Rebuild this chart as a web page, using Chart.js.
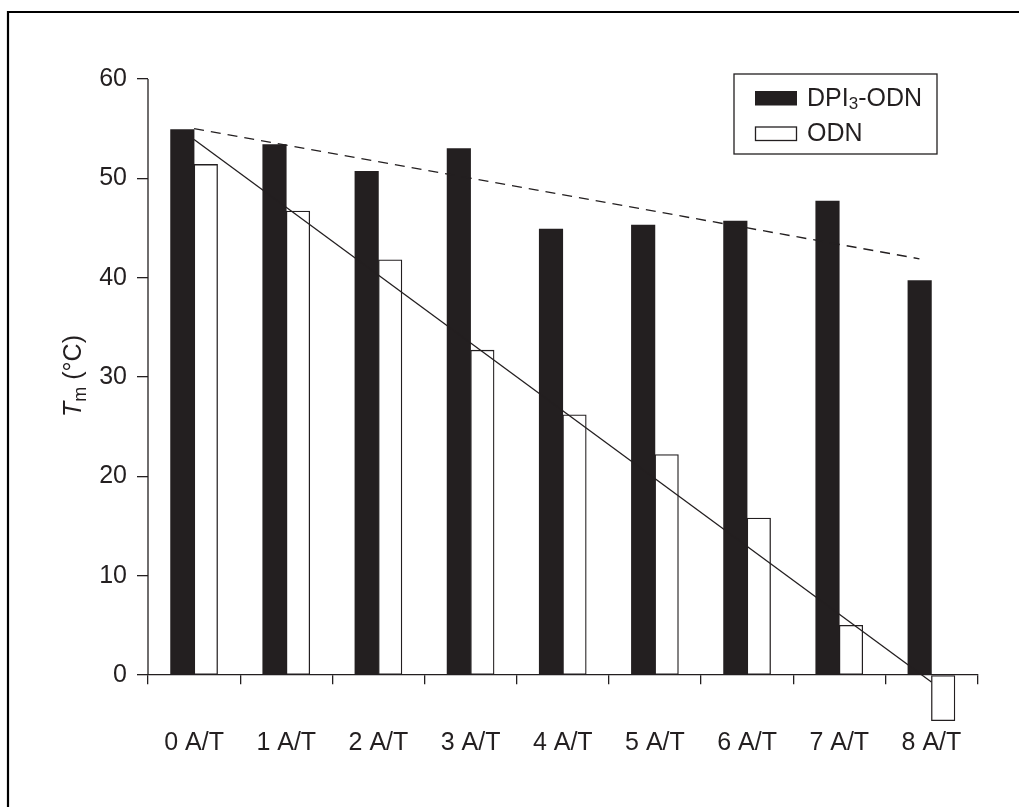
<!DOCTYPE html>
<html>
<head>
<meta charset="utf-8">
<script src="https://cdn.jsdelivr.net/npm/chart.js@4.4.1/dist/chart.umd.min.js"></script>
<style>
  html, body { margin: 0; padding: 0; background: #fff; overflow: hidden; }
  canvas { display: block; }
</style>
</head>
<body>
<canvas id="chart" width="1019" height="807"></canvas>
<script>
// Melting temperatures per number of A/T mismatches
const categories = ['0 A/T', '1 A/T', '2 A/T', '3 A/T', '4 A/T', '5 A/T', '6 A/T', '7 A/T', '8 A/T'];
const seriesNames = ['DPI\u2083-ODN', 'ODN'];
const dpiValues = [54.9, 53.4, 50.7, 53.0, 44.9, 45.3, 45.7, 47.7, 39.7];
const odnValues = [51.4, 46.7, 41.8, 32.7, 26.2, 22.2, 15.8, 5.0, -4.6];
const yTicks = [0, 10, 20, 30, 40, 50, 60];

// Trend lines (x in category index units)
const dpiTrendX = [0, 7.87];
const dpiTrendY = [55.0, 41.9];
const odnTrendX = [0, 8];
const odnTrendY = [53.9, -0.7];

const INK = '#231f20';
const FONT = '"Liberation Sans Narrow", "Liberation Sans", Arial, sans-serif';
const FONT_SIZE = 25;
const BAR_PX = 23.5;        // width of one bar
const PAIR_SHIFT = 0.1275;  // half a bar, in category units: pairs sit side by side

Chart.defaults.font.family = FONT;
Chart.defaults.color = INK;

// Draws text, rendering unicode subscript digits as small lowered digits
function drawRich(ctx, text, x, y, size) {
  const subs = '\u2080\u2081\u2082\u2083\u2084\u2085\u2086\u2087\u2088\u2089';
  let cx = x;
  for (const ch of text) {
    const k = subs.indexOf(ch);
    if (k >= 0) {
      ctx.font = Math.round(size * 0.68) + 'px ' + FONT;
      ctx.fillText(String(k), cx, y + size * 0.22);
      cx += ctx.measureText(String(k)).width;
    } else {
      ctx.font = size + 'px ' + FONT;
      ctx.fillText(ch, cx, y);
      cx += ctx.measureText(ch).width;
    }
  }
  return cx - x;
}

// White page with a frame line along the top and left
const framePlugin = {
  id: 'frame',
  beforeDraw(chart) {
    const ctx = chart.ctx;
    ctx.save();
    ctx.fillStyle = '#fff';
    ctx.fillRect(0, 0, chart.width, chart.height);
    ctx.strokeStyle = '#000';
    ctx.lineWidth = 2.2;
    ctx.beginPath();
    ctx.moveTo(8, chart.height + 5);
    ctx.lineTo(8, 12);
    ctx.lineTo(chart.width + 5, 12);
    ctx.stroke();
    ctx.restore();
  }
};

// Vertical axis line (0 to 60), axis title and boxed legend
const decorPlugin = {
  id: 'decor',
  afterDraw(chart) {
    const ctx = chart.ctx;
    const y = chart.scales.y;
    const x0 = chart.chartArea.left;
    ctx.save();
    ctx.strokeStyle = INK;
    ctx.lineWidth = 1.3;
    ctx.beginPath();
    ctx.moveTo(x0, y.getPixelForValue(yTicks[yTicks.length - 1]));
    ctx.lineTo(x0, y.getPixelForValue(yTicks[0]));
    ctx.stroke();

    // Axis title: T (italic) with subscript m, then (°C)
    ctx.fillStyle = INK;
    ctx.textBaseline = 'alphabetic';
    ctx.textAlign = 'left';
    const size = FONT_SIZE;
    ctx.font = 'italic ' + size + 'px ' + FONT;
    const wT = ctx.measureText('T').width;
    ctx.font = Math.round(size * 0.72) + 'px ' + FONT;
    const wm = ctx.measureText('m').width;
    ctx.font = size + 'px ' + FONT;
    const wRest = ctx.measureText(' (\u00B0C)').width;
    const total = wT + wm + wRest;
    ctx.translate(81, y.getPixelForValue(30) - 1);
    ctx.rotate(-Math.PI / 2);
    let cx = -total / 2;
    ctx.font = 'italic ' + size + 'px ' + FONT;
    ctx.fillText('T', cx, 0);
    cx += wT;
    ctx.font = Math.round(size * 0.72) + 'px ' + FONT;
    ctx.fillText('m', cx, size * 0.2);
    cx += wm;
    ctx.font = size + 'px ' + FONT;
    ctx.fillText(' (\u00B0C)', cx, 0);
    ctx.setTransform(1, 0, 0, 1, 0, 0);

    // Legend
    const box = { left: 734, top: 74, right: 937, bottom: 154 };
    ctx.lineWidth = 1.3;
    ctx.strokeStyle = INK;
    ctx.strokeRect(box.left, box.top, box.right - box.left, box.bottom - box.top);
    const rows = [98, 133.5];
    [0, 1].forEach((i) => {
      const ds = chart.data.datasets.find((d) => d.label === seriesNames[i]);
      const cy = rows[i];
      ctx.fillStyle = ds.backgroundColor;
      ctx.fillRect(755, cy - 7, 42, 14.5);
      if (ds.borderWidth) {
        ctx.lineWidth = 1.3;
        ctx.strokeStyle = ds.borderColor;
        ctx.strokeRect(755.5, cy - 6.5, 41, 13.5);
      }
      ctx.fillStyle = INK;
      ctx.textBaseline = 'middle';
      drawRich(ctx, ds.label, 807, cy + 1, size);
    });
    ctx.restore();
  }
};

// Hidden index axis for one bar series, nudged so the pair sits side by side
function pairAxis(shift) {
  return {
    type: 'linear',
    axis: 'x',
    display: false,
    offset: false,
    min: -0.5 + shift,
    max: categories.length - 0.5 + shift
  };
}

new Chart(document.getElementById('chart'), {
  type: 'bar',
  data: {
    labels: categories,
    datasets: [
      {
        type: 'bar',
        label: seriesNames[0],
        xAxisID: 'xb',
        yAxisID: 'y',
        data: dpiValues.map((v, i) => ({ x: i, y: v })),
        backgroundColor: INK,
        borderWidth: 0,
        grouped: false,
        barThickness: BAR_PX,
        order: 2
      },
      {
        type: 'bar',
        label: seriesNames[1],
        xAxisID: 'xw',
        yAxisID: 'y',
        data: odnValues.map((v, i) => ({ x: i, y: v })),
        backgroundColor: '#ffffff',
        borderColor: INK,
        borderWidth: 1.3,
        borderSkipped: false,
        grouped: false,
        barThickness: BAR_PX,
        order: 2
      },
      {
        type: 'line',
        label: 'dpi-trend',
        xAxisID: 'xl',
        yAxisID: 'y',
        data: dpiTrendX.map((x, i) => ({ x, y: dpiTrendY[i] })),
        borderColor: INK,
        borderWidth: 1.3,
        borderDash: [10, 7],
        pointRadius: 0,
        fill: false,
        order: 1
      },
      {
        type: 'line',
        label: 'odn-trend',
        xAxisID: 'xl',
        yAxisID: 'y',
        data: odnTrendX.map((x, i) => ({ x, y: odnTrendY[i] })),
        borderColor: INK,
        borderWidth: 1.3,
        pointRadius: 0,
        fill: false,
        order: 1
      }
    ]
  },
  options: {
    responsive: false,
    animation: false,
    devicePixelRatio: 1,
    layout: { padding: { left: 0, top: 79, right: 41.5, bottom: 72.4 } },
    plugins: {
      legend: { display: false },
      tooltip: { enabled: false }
    },
    scales: {
      x: {
        type: 'category',
        position: { y: 0 },
        offset: true,
        grid: {
          offset: true,
          drawOnChartArea: false,
          drawTicks: true,
          tickLength: 9,
          color: INK,
          lineWidth: 1.3
        },
        border: { display: true, color: INK, width: 1.3 },
        ticks: {
          color: INK,
          font: { size: FONT_SIZE },
          padding: 44,
          maxRotation: 0,
          autoSkip: false
        }
      },
      xb: pairAxis(PAIR_SHIFT),
      xw: pairAxis(-PAIR_SHIFT),
      xl: pairAxis(0),
      y: {
        type: 'linear',
        position: 'left',
        min: -6,
        max: 60,
        afterBuildTicks(scale) {
          scale.ticks = yTicks.map((v) => ({ value: v }));
        },
        afterFit(scale) {
          scale.width = 148;
        },
        grid: {
          drawOnChartArea: false,
          drawTicks: true,
          tickLength: 11,
          color: INK,
          lineWidth: 1.3
        },
        border: { display: false },
        ticks: {
          color: INK,
          font: { size: FONT_SIZE },
          padding: 10
        }
      }
    }
  },
  plugins: [framePlugin, decorPlugin]
});
</script>
</body>
</html>
